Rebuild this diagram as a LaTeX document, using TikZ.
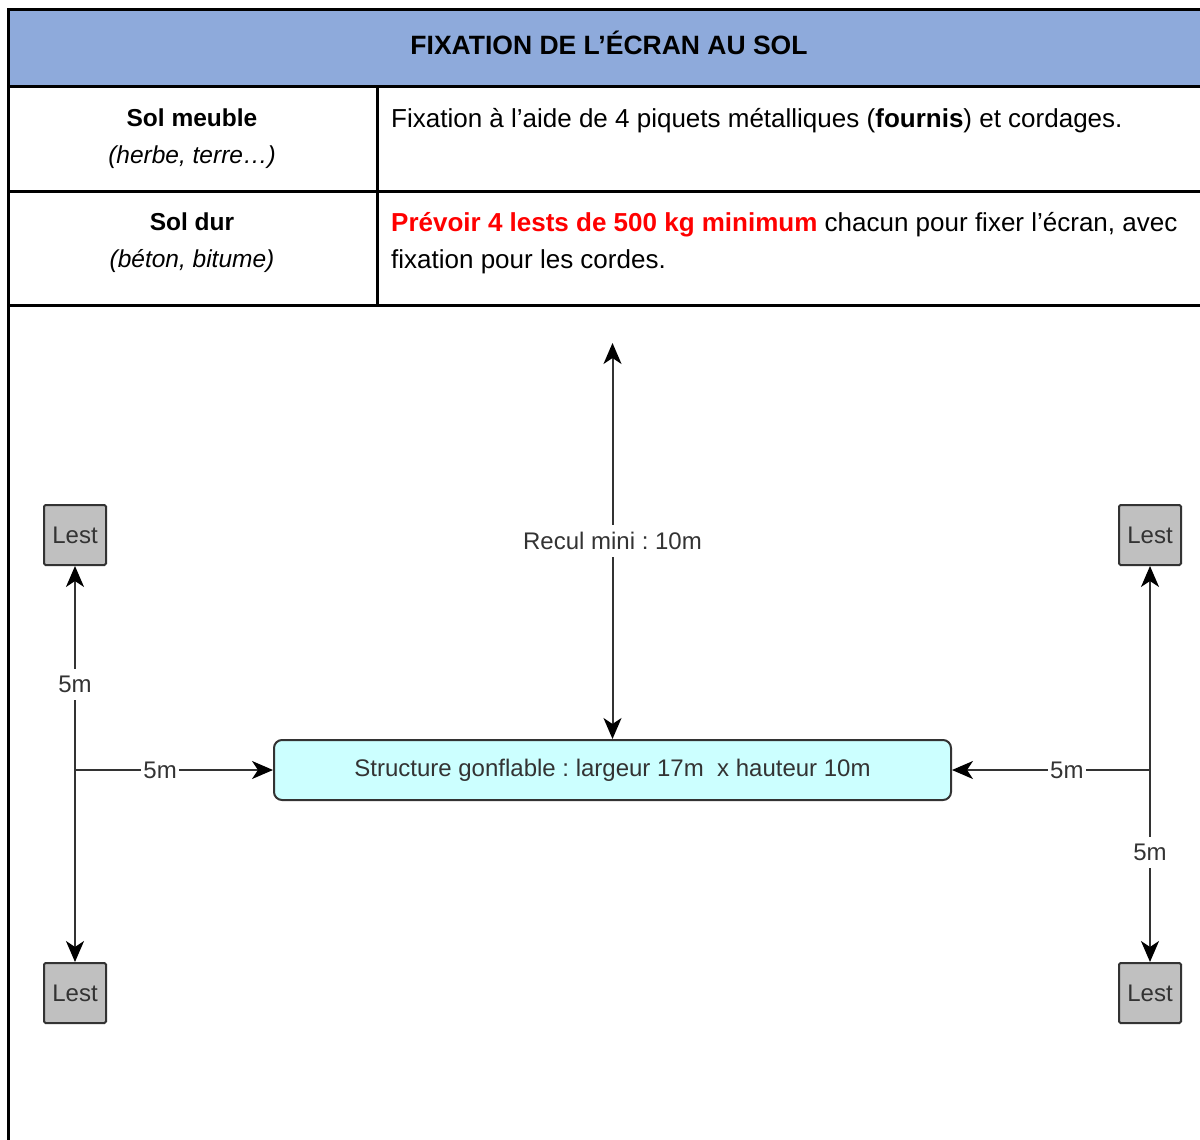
\documentclass[tikz,border=0pt]{standalone}
\usepackage{fontspec}
\setmainfont{Liberation Sans}
\setsansfont{Liberation Sans}
\usetikzlibrary{arrows.meta}
\definecolor{entete}{RGB}{142,170,219}
\definecolor{gonfle}{RGB}{204,255,255}
\definecolor{lestgris}{RGB}{192,192,192}
\definecolor{trait}{RGB}{51,51,51}
\definecolor{rouge}{RGB}{255,0,0}
\frenchspacing

\begin{document}
\begin{tikzpicture}[x=1pt, y=-1pt, font=\sffamily,
		>={Stealth[length=21pt, width=18pt, inset=6pt, color=black]},
		cellule/.style={line width=3pt},
		texte/.style={font=\fontsize{26}{37}\selectfont, inner sep=0pt},
		gauche/.style={font=\fontsize{24.5}{37}\selectfont, inner sep=0pt},
		lest/.style={draw=trait, fill=lestgris, line width=2pt, minimum width=62pt, minimum height=60pt, rounded corners=1.5pt, inner sep=0pt, font=\fontsize{24}{26}\selectfont, text=trait},
		fleche/.style={->, line width=2pt, draw=trait},
		etiq/.style={fill=white, inner xsep=2pt, inner ysep=7pt, font=\fontsize{24}{26}\selectfont, text=trait}]
		\useasboundingbox (0,0) rectangle (1200,1140);
		\clip (0,0) rectangle (1200,1140);
		
		% Tableau
		\draw[fill=entete, cellule] (8,10) rectangle (1215,87);
		\node[font=\fontsize{26.5}{30}\selectfont\bfseries, inner sep=0pt] (titre) at (609,43) {FIXATION DE L’ÉCRAN AU SOL};
		\draw[cellule] (8,87) rectangle (377,191);
		\draw[cellule] (377,87) rectangle (1215,191);
		\draw[cellule] (8,191) rectangle (377,305);
		\draw[cellule] (377,191) rectangle (1215,305);
		\draw[cellule] (8,305) -- (1215,305) (8,305) -- (8,1150);
		
		\node[gauche, align=center] (meuble) at (192,139) {\textbf{Sol meuble}\\\textit{(herbe, terre…)}};
		\node[texte, align=left, anchor=north west] (piquets) at (391,108) {Fixation à l’aide de 4 piquets métalliques (\textbf{fournis}) et cordages.};
		\node[gauche, align=center] (dur) at (192,243) {\textbf{Sol dur}\\\textit{(béton, bitume)}};
		\node[texte, align=left, anchor=north west] (lests) at (391,212) {\textcolor{rouge}{\textbf{Prévoir 4 lests de 500 kg minimum}} chacun pour fixer l’écran, avec\\fixation pour les cordes.};
		
		% Schema
		\node[draw=trait, fill=gonfle, line width=2pt, rounded corners=8pt, minimum width=677pt, minimum height=60pt, font=\fontsize{24}{26}\selectfont, text=trait] (structure) at (612.5,770) {Structure gonflable : largeur 17m\ \ x hauteur 10m};
		\node[lest] (lestHG) at (75,535) {Lest};
		\node[lest] (lestBG) at (75,993) {Lest};
		\node[lest] (lestHD) at (1150,535) {Lest};
		\node[lest] (lestBD) at (1150,993) {Lest};
		\coordinate (jonctionG) at (75,770);
		\coordinate (jonctionD) at (1150,770);
		\coordinate (recul) at (612.5,343);
		
		\draw[fleche] (jonctionG) -- node[etiq, pos=0.42] {5m} (lestHG);
		\draw[fleche] (jonctionG) -- (lestBG);
		\draw[fleche] (jonctionG) -- node[etiq, pos=0.43] {5m} (structure);
		\draw[fleche] (jonctionD) -- (lestHD);
		\draw[fleche] (jonctionD) -- node[etiq, pos=0.43] {5m} (lestBD);
		\draw[fleche] (jonctionD) -- node[etiq, pos=0.42] {5m} (structure);
		\draw[fleche, <->] (structure) -- node[etiq] {Recul mini : 10m} (recul);
	\end{tikzpicture}
\end{document}
